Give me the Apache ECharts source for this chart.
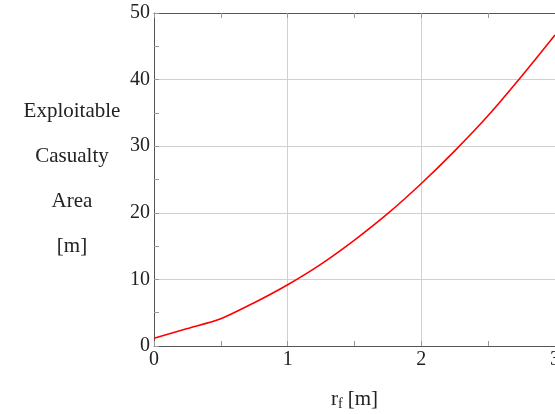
<!DOCTYPE html>
<html>
<head>
<meta charset="utf-8">
<script src="https://cdn.jsdelivr.net/npm/echarts@6/dist/echarts.min.js"></script>
<style>html,body{margin:0;padding:0;background:#fff}#c{width:555px;height:414px}</style>
</head>
<body>
<div id="c"></div>
<script>
const rf = [0, 0.25, 0.5, 0.75, 1, 1.25, 1.5, 1.75, 2, 2.25, 2.5, 2.75, 3];
const area = [1.17, 2.63, 4.1, 6.5, 9.2, 12.3, 15.9, 19.9, 24.4, 29.3, 34.6, 40.5, 46.7];
const yNameLines = ['Exploitable', 'Casualty', 'Area', '[m]'];
const FONT = '"Liberation Serif", "DejaVu Serif", serif';
const axisCol = '#555';
const chart = echarts.init(document.getElementById('c'), null, {renderer: 'canvas'});
chart.setOption({
  animation: false,
  grid: {left: 154, right: 0, top: 13, bottom: 68, containLabel: false, outerBoundsMode: 'none'},
  xAxis: [{
    type: 'value', min: 0, max: 3, interval: 1,
    name: '{a|r}{s|f}{a| [m]}', nameLocation: 'middle', nameGap: 42,
    nameTextStyle: {rich: {a: {fontFamily: FONT, fontSize: 21, color: '#222'}, s: {fontFamily: FONT, fontSize: 14, color: '#222', verticalAlign: 'bottom', padding: [9, 0, 0, 0]}}},
    axisLine: {lineStyle: {color: axisCol, width: 1}},
    axisTick: {inside: true, length: 5, lineStyle: {color: '#999'}},
    minorTick: {show: true, splitNumber: 2, length: 5, lineStyle: {color: '#999'}},
    axisLabel: {fontFamily: FONT, fontSize: 20, color: '#222', margin: 4},
    splitLine: {show: true, lineStyle: {color: '#d0d0d0', width: 1}}
  }, {
    type: 'value', min: 0, max: 3, interval: 1, position: 'top',
    axisLine: {show: true, lineStyle: {color: axisCol, width: 1}},
    axisTick: {show: true, inside: true, length: 5, lineStyle: {color: '#999'}},
    minorTick: {show: true, splitNumber: 2, length: 5, lineStyle: {color: '#999'}},
    axisLabel: {show: false}, splitLine: {show: false}
  }],
  yAxis: {
    type: 'value', min: 0, max: 50, interval: 10,
    axisLine: {show: true, lineStyle: {color: axisCol, width: 1}},
    axisTick: {show: true, inside: true, length: 5, lineStyle: {color: '#999'}},
    minorTick: {show: true, splitNumber: 2, length: 5, lineStyle: {color: '#999'}},
    axisLabel: {fontFamily: FONT, fontSize: 20, color: '#222', margin: 4},
    splitLine: {show: true, lineStyle: {color: '#d0d0d0', width: 1}}
  },
  graphic: [{
    type: 'text',
    x: 72, y: 179,
    style: {text: yNameLines.join('\n'), fontFamily: FONT, fontSize: 21, fill: '#222', lineHeight: 45, align: 'center', verticalAlign: 'middle'}
  }],
  series: [{
    type: 'line', xAxisIndex: 0,
    data: rf.map((r, i) => [r, area[i]]),
    smooth: 0.25, showSymbol: false,
    lineStyle: {color: '#ff0000', width: 1.6}
  }]
});
</script>
</body>
</html>
